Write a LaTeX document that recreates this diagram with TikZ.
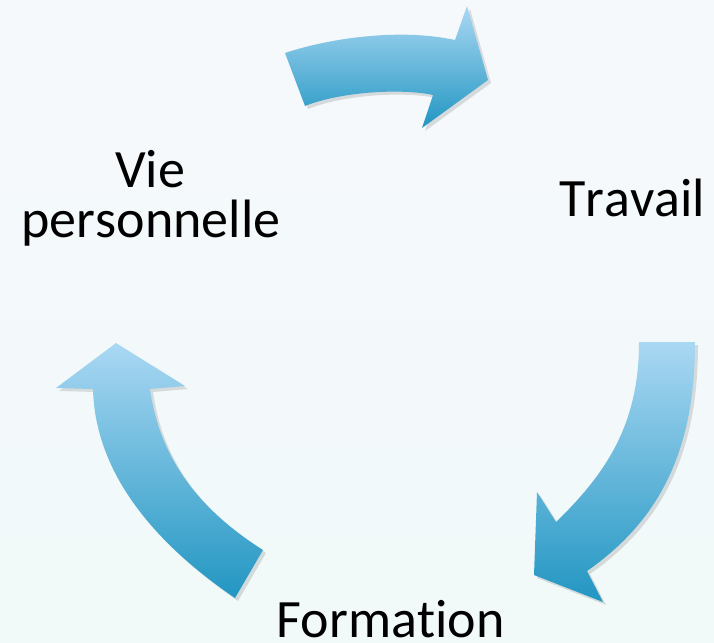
\documentclass[tikz,border=0pt]{standalone}
\usepackage{fontspec}
\setmainfont{Carlito}[Ligatures={NoCommon},Kerning=Off]
\definecolor{bgtop}{RGB}{246,249,252}
\definecolor{bgbot}{RGB}{241,249,249}
\definecolor{arrtop}{RGB}{170,216,243}
\definecolor{arrbot}{RGB}{34,150,194}
\begin{document}
\begin{tikzpicture}[x=1pt,y=-1pt,
  cyclearrow/.style={top color=arrtop,bottom color=arrbot,shading angle=0},
  arrshadow/.style={fill=black,opacity=0.12},
  lbl/.style={font=\fontsize{54}{50}\selectfont,text=black,align=center,inner sep=0pt}]
\fill[top color=bgtop,bottom color=bgbot] (0,0) rectangle (714,642);
\useasboundingbox (0,0) rectangle (714,642);
% shadows
\begin{scope}[shift={(3,3)}]
\fill[arrshadow] (285,53) .. controls (330,38) and (400,28) .. (455,40) -- (467,6) -- (488,80) -- (422,128) -- (433,95) .. controls (400,88) and (340,92) .. (305,106) -- cycle;
\fill[arrshadow] (639,342) -- (695,342) .. controls (695,450) and (660,520) .. (587,571) -- (603,602) -- (534,575) -- (537,492) -- (556,522) .. controls (610,470) and (639,420) .. (639,342) -- cycle;
\fill[arrshadow] (263,550) -- (235,598) .. controls (150,540) and (95,470) .. (93,389) -- (56,388) -- (116,343) -- (185,386) -- (150,389) .. controls (160,460) and (200,510) .. (263,550) -- cycle;
\end{scope}
% arrows
\path[cyclearrow] (285,53) .. controls (330,38) and (400,28) .. (455,40) -- (467,6) -- (488,80) -- (422,128) -- (433,95) .. controls (400,88) and (340,92) .. (305,106) -- cycle;
\path[cyclearrow] (639,342) -- (695,342) .. controls (695,450) and (660,520) .. (587,571) -- (603,602) -- (534,575) -- (537,492) -- (556,522) .. controls (610,470) and (639,420) .. (639,342) -- cycle;
\path[cyclearrow] (263,550) -- (235,598) .. controls (150,540) and (95,470) .. (93,389) -- (56,388) -- (116,343) -- (185,386) -- (150,389) .. controls (160,460) and (200,510) .. (263,550) -- cycle;
% labels
\node[lbl,anchor=base] (vie) at (150,187) {Vie};
\node[lbl,anchor=base] (perso) at (151,237) {personnelle};
\node[lbl,anchor=base west] (travail) at (559,216) {Travail};
\node[lbl,anchor=base west] (formation) at (276,637) {Formation};
\end{tikzpicture}
\end{document}
